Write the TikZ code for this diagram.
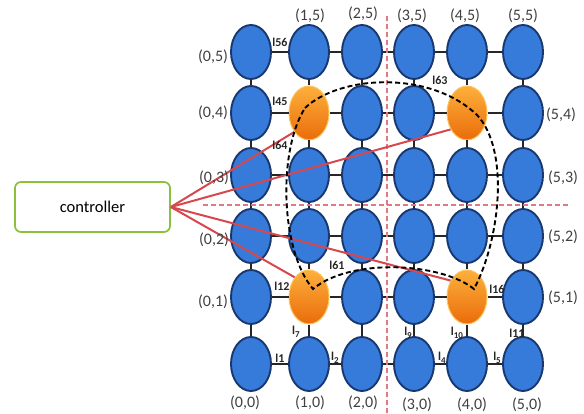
\documentclass[tikz,border=0pt]{standalone}
\usepackage{fontspec}
\setmainfont{Carlito}
\usetikzlibrary{shapes.geometric}
\definecolor{nodeblue}{RGB}{54,122,218}
\definecolor{nodeedge}{RGB}{26,56,112}
\definecolor{orA}{RGB}{253,176,60}
\definecolor{orB}{RGB}{234,108,10}
\definecolor{orEdge}{RGB}{250,196,90}
\definecolor{ctrlgreen}{RGB}{140,192,60}
\definecolor{linkred}{RGB}{214,72,78}
\definecolor{axisred}{RGB}{226,120,132}
\definecolor{labgray}{RGB}{64,64,64}
\newcommand{\lsub}[1]{l\raisebox{-2.5pt}{\fontsize{9}{9}\selectfont #1}}
\begin{document}
\begin{tikzpicture}[x=1pt,y=-1pt,
  bnode/.style={ellipse,draw=nodeedge,line width=1.9pt,fill=nodeblue,minimum width=40pt,minimum height=54pt,inner sep=0pt},
  onode/.style={ellipse,draw=orEdge,line width=1pt,top color=orA,bottom color=orB,minimum width=40pt,minimum height=54pt,inner sep=0pt},
  link/.style={line width=1.5pt,black!85},
  thicklink/.style={line width=2.5pt,black!85},
  ctrllink/.style={linkred,line width=2pt},
  axisline/.style={axisred,line width=1.2pt,dash pattern=on 5pt off 3pt},
  looppath/.style={black,line width=1.9pt,dash pattern=on 5pt off 3pt},
  coordlab/.style={font=\fontsize{16}{18}\selectfont,text=labgray,inner sep=0pt},
  elab/.style={font=\fontsize{12}{13}\selectfont\bfseries,text=black!85,inner sep=0pt}
]
\useasboundingbox (0,0) rectangle (584,414);

% axes
\coordinate (vt) at (387,16);
\coordinate (vb) at (387,414);
\coordinate (hl) at (203,205);
\coordinate (hr) at (570,205);

% grid nodes
\foreach \c/\x in {0/251,1/309,2/362,3/414,4/467,5/523}
  \foreach \r/\y in {0/364,1/297,2/236,3/175,4/113,5/52} {
    \pgfmathtruncatemacro\isor{and(or(\c==1,\c==4),or(\r==1,\r==4))}
    \ifnum\isor=1
      \node[onode] (n\c\r) at (\x,\y) {};
    \else
      \node[bnode] (n\c\r) at (\x,\y) {};
    \fi
  }

% grid links
\foreach \c in {0,...,4}
  \foreach \r in {1,...,5} {
    \pgfmathtruncatemacro\cn{\c+1}
    \draw[link] (n\c\r) -- (n\cn\r);
  }
\foreach \c in {0,...,4} {
    \pgfmathtruncatemacro\cn{\c+1}
    \draw[thicklink] (n\c0) -- (n\cn0);
  }
\foreach \c in {0,...,5}
  \foreach \r in {0,...,4} {
    \pgfmathtruncatemacro\rn{\r+1}
    \draw[link] (n\c\r) -- (n\c\rn);
  }

\draw[axisline] (vt) -- (vb);
\draw[axisline] (hl) -- (hr);

% controller
\node[draw=ctrlgreen,line width=1.7pt,rounded corners=6pt,minimum width=155pt,minimum height=50pt,fill=white,inner sep=0pt,font=\fontsize{16.5}{18}\selectfont] (ctrl) at (92.5,207) {controller};

\draw[ctrllink] (ctrl.east) -- (n14.232);
\draw[ctrllink] (ctrl.east) -- (n44.225);
\draw[ctrllink] (ctrl.east) -- (n11.126);
\draw[ctrllink] (ctrl.east) -- (n41.135);

% dashed loop
\coordinate (p1) at (305,108);
\coordinate (p2) at (477,115);
\coordinate (p4) at (474,289);
\coordinate (p3) at (313,289);
\draw[looppath] (p1) .. controls (340,75) and (430,70) .. (p2)
  .. controls (510,150) and (500,240) .. (p4)
  .. controls (440,262) and (350,258) .. (p3)
  .. controls (280,250) and (278,150) .. (p1);

% coordinate labels
\node[coordlab] (l05) at (213,57) {(0,5)};
\node[coordlab] (l04) at (213,113) {(0,4)};
\node[coordlab] (l03) at (214,178) {(0,3)};
\node[coordlab] (l02) at (214,240) {(0,2)};
\node[coordlab] (l01) at (213,302) {(0,1)};
\node[coordlab] (l15) at (310,16) {(1,5)};
\node[coordlab] (l25) at (363,14) {(2,5)};
\node[coordlab] (l35) at (412,16) {(3,5)};
\node[coordlab] (l45) at (465,16) {(4,5)};
\node[coordlab] (l55) at (523,16) {(5,5)};
\node[coordlab] (l54) at (561,115) {(5,4)};
\node[coordlab] (l53) at (563,178) {(5,3)};
\node[coordlab] (l52) at (563,237) {(5,2)};
\node[coordlab] (l51) at (563,298) {(5,1)};
\node[coordlab] (l00) at (245,403) {(0,0)};
\node[coordlab] (l10) at (310,403) {(1,0)};
\node[coordlab] (l20) at (363,403) {(2,0)};
\node[coordlab] (l30) at (417,405) {(3,0)};
\node[coordlab] (l40) at (472,405) {(4,0)};
\node[coordlab] (l50) at (527,405) {(5,0)};

% link labels
\node[elab] (e56) at (280,42) {l56};
\node[elab] (e45) at (280,101) {l45};
\node[elab] (e64) at (280,145) {l64};
\node[elab] (e63) at (440,80) {l63};
\node[elab] (e61) at (337,265) {l61};
\node[elab] (e12) at (282,286) {l12};
\node[elab] (e16) at (497,289) {l16};
\node[elab] (e7) at (296,332) {\lsub{7}};
\node[elab] (e9) at (408,333) {\lsub{9}};
\node[elab] (e10) at (457,333) {\lsub{10}};
\node[elab] (e11) at (517,333) {l11};
\node[elab] (e1) at (280,358) {l1};
\node[elab] (e2) at (335,358) {\lsub{2}};
\node[elab] (e4) at (442,358) {\lsub{4}};
\node[elab] (e5) at (497,358) {\lsub{5}};
\end{tikzpicture}
\end{document}
